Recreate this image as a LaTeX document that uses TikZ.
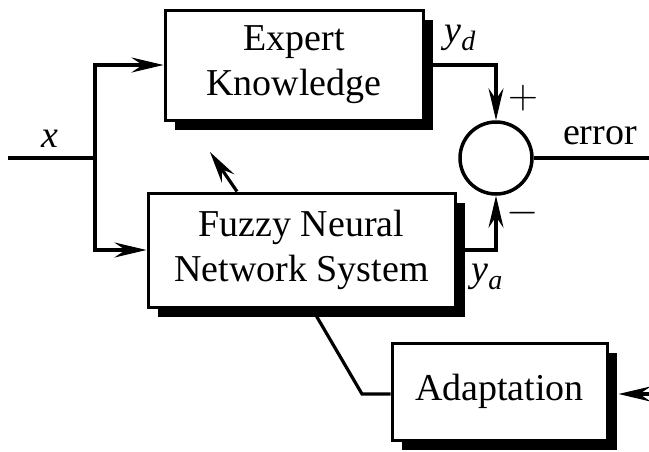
\documentclass[tikz,border=0pt]{standalone}
\usepackage{fontspec}
\setmainfont{Liberation Serif}
\usepackage{tikz}
\usetikzlibrary{positioning}
\usetikzlibrary{arrows.meta}
\usetikzlibrary{shadows}

\newcommand{\sig}[2]{\textit{#1}\raisebox{-4pt}{\fontsize{14}{14}\selectfont\textit{#2}}}

\begin{document}
\begin{tikzpicture}[node distance=1cm,on grid,
      every node/.style={font=\fontsize{19}{22.5}\selectfont},
      blk/.style={draw, line width=1.5pt, fill=white, align=center, inner sep=0pt,
        drop shadow={shadow xshift=5pt, shadow yshift=-5pt, fill=black, opacity=1}},
      summer/.style={draw, circle, line width=1.75pt, minimum size=36pt, inner sep=0pt},
      wire/.style={line width=1.6pt},
      >={Stealth[length=16pt, width=7.5pt, inset=5.5pt]}]

      \useasboundingbox (0,0) rectangle (324.5pt,-225.5pt);

      \node[blk, minimum width=129pt, minimum height=55pt] (ek) at (147pt,-32.5pt) {Expert\\Knowledge};
      \node[blk, minimum width=153.5pt, minimum height=57pt] (fnn) [below=92.5pt of ek, xshift=3.75pt] {Fuzzy Neural\\Network System};
      \node[summer] (sum) [right=101pt of ek, yshift=-46.5pt] {};
      \node[blk, minimum width=107.5pt, minimum height=48.5pt] (ad) [below=70.75pt of fnn, xshift=99pt] {Adaptation};

      \coordinate (in) at (4pt,-79pt);
      \coordinate (br) at (47.5pt,-79pt);
      \coordinate (out) at (324.5pt,-79pt);
      \coordinate (ain) at (324.5pt,-197pt);
      \coordinate (kn) at (181pt,-197pt);
      \coordinate (fb) at (105pt,-76pt);
      \coordinate (ae) at ([xshift=5pt]ad.east);

      \node[] (lx) at (25pt,-69.5pt) {\textit{x}};
      \node[] (lyd) at (230pt,-19pt) {\sig{y}{d}};
      \node[] (lya) at (243.5pt,-138.5pt) {\sig{y}{a}};
      \node[] (lp) at (261.5pt,-49pt) {\fontsize{22}{22}\selectfont$+$};
      \node[] (lm) at (261.5pt,-106.5pt) {\fontsize{22}{22}\selectfont$-$};
      \node[] (le) at (300pt,-68pt) {error};

      \draw[wire] (in) -- (br);
      \draw[wire,->] (br) |- (ek.west);
      \draw[wire,->] (br) |- (fnn.west);
      \draw[wire,->] (ek.east) -| (sum.north);
      \draw[wire,->] (fnn.east) -| (sum.south);
      \draw[wire] (sum.east) -- (out);
      \draw[wire] ([xshift=5.25pt]fnn.south) -- (kn) -- (kn -| ad.west);

      \path[wire,->]
        ([xshift=-32.25pt]fnn.north) edge [] node[] {} (fb)
        (ain) edge [] node[] {} (ain -| ae);

    \end{tikzpicture}
\end{document}
